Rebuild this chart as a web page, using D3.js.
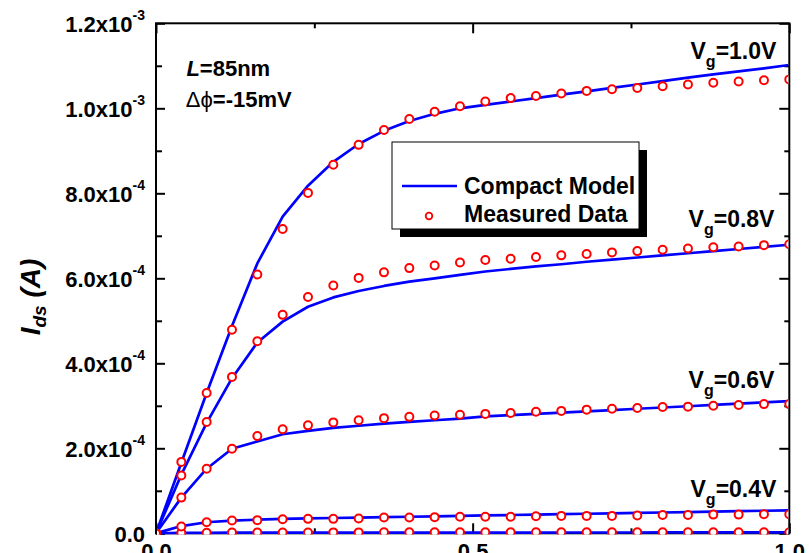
<!DOCTYPE html>
<html>
<head>
<meta charset="utf-8">
<script src="https://cdn.jsdelivr.net/npm/d3@7"></script>
<style>
  body { margin: 0; background: #fff; }
  svg { display: block; }
  text { font-family: "Liberation Sans", Arial, Helvetica, sans-serif; font-weight: bold; fill: #000; }
</style>
</head>
<body>
<svg id="chart" width="809" height="553"></svg>
<script>
// Drain voltage sweep (V)
const vds = [0.00, 0.04, 0.08, 0.12, 0.16, 0.20, 0.24, 0.28, 0.32, 0.36, 0.40, 0.44, 0.48,
             0.52, 0.56, 0.60, 0.64, 0.68, 0.72, 0.76, 0.80, 0.84, 0.88, 0.92, 0.96, 1.00];

// Measured drain current, in units of 1e-4 A
const measVg10 = [0, 1.68, 3.30, 4.79, 6.09, 7.16, 8.01, 8.67, 9.14, 9.49, 9.75, 9.92, 10.05,
                  10.16, 10.24, 10.29, 10.35, 10.41, 10.45, 10.48, 10.52, 10.56, 10.60, 10.63, 10.66, 10.68];
const measVg08 = [0, 1.36, 2.62, 3.68, 4.52, 5.14, 5.56, 5.83, 6.01, 6.14, 6.24, 6.30, 6.37,
                  6.43, 6.46, 6.50, 6.54, 6.57, 6.61, 6.64, 6.67, 6.70, 6.73, 6.75, 6.78, 6.80];
const measVg06 = [0, 0.84, 1.52, 1.99, 2.29, 2.45, 2.54, 2.61, 2.66, 2.71, 2.74, 2.77, 2.79,
                  2.81, 2.83, 2.86, 2.88, 2.91, 2.93, 2.95, 2.97, 2.98, 3.00, 3.02, 3.04, 3.04];
const measVg04 = [0, 0.16, 0.26, 0.30, 0.31, 0.33, 0.34, 0.34, 0.35, 0.37, 0.37, 0.38, 0.39,
                  0.39, 0.39, 0.40, 0.41, 0.41, 0.41, 0.42, 0.43, 0.43, 0.44, 0.44, 0.45, 0.45];
const measVg02 = [0, 0.010, 0.015, 0.018, 0.020, 0.020, 0.020, 0.021, 0.021, 0.022, 0.022, 0.022, 0.023,
                  0.023, 0.023, 0.024, 0.024, 0.024, 0.024, 0.025, 0.025, 0.025, 0.025, 0.026, 0.026, 0.026];

// Compact model drain current, in units of 1e-4 A
const modelVg10 = [0, 1.66, 3.30, 4.88, 6.35, 7.45, 8.18, 8.74, 9.16, 9.47, 9.70, 9.87, 10.00,
                   10.08, 10.16, 10.24, 10.32, 10.40, 10.48, 10.56, 10.64, 10.72, 10.80, 10.87, 10.94, 11.02];
const modelVg08 = [0, 1.38, 2.60, 3.65, 4.49, 4.98, 5.33, 5.55, 5.70, 5.82, 5.92, 6.00, 6.08,
                   6.16, 6.22, 6.28, 6.33, 6.39, 6.44, 6.49, 6.54, 6.59, 6.64, 6.69, 6.74, 6.79];
const modelVg06 = [0, 0.84, 1.52, 1.99, 2.16, 2.33, 2.41, 2.48, 2.53, 2.58, 2.62, 2.66, 2.70,
                   2.75, 2.78, 2.81, 2.84, 2.87, 2.90, 2.93, 2.96, 2.99, 3.02, 3.05, 3.08, 3.11];
const modelVg04 = [0, 0.17, 0.26, 0.30, 0.32, 0.34, 0.35, 0.36, 0.37, 0.38, 0.39, 0.40, 0.41,
                   0.42, 0.43, 0.44, 0.45, 0.46, 0.47, 0.48, 0.49, 0.50, 0.51, 0.52, 0.53, 0.54];
const modelVg02 = [0, 0.008, 0.012, 0.014, 0.015, 0.015, 0.016, 0.016, 0.016, 0.017, 0.017, 0.017, 0.018,
                   0.018, 0.018, 0.018, 0.019, 0.019, 0.019, 0.019, 0.020, 0.020, 0.020, 0.020, 0.021, 0.021];

const seriesNames = ["0.4V", "0.6V", "0.8V", "1.0V"];

// Axis ticks (y in units of 1e-4 A)
const xMajorTicks = [0, 0.5, 1.0];
const xMinorTicks = [0.25, 0.75];
const xTickLabels = ["0.0", "0.5", "1.0"];
const yMajorTicks = [0, 2, 4, 6, 8, 10, 12];
const yMinorTicks = [1, 3, 5, 7, 9, 11];
const yTickMantissa = ["0.0", "2.0", "4.0", "6.0", "8.0", "1.0", "1.2"];
const yTickExponent = ["", "-4", "-4", "-4", "-4", "-3", "-3"];

// Gate-voltage labels placed in data coordinates (Vds, Ids/1e-4)
const vgLabelX = [0.844, 0.841, 0.841, 0.844];
const vgLabelY = [0.86, 3.41, 7.21, 11.16];

const margin = { left: 156, top: 23.3, right: 809 - 789.3, bottom: 553 - 533.3 };
const W = 809 - margin.left - margin.right;
const H = 553 - margin.top - margin.bottom;

const svg = d3.select("#chart");
const g = svg.append("g").attr("transform", `translate(${margin.left},${margin.top})`);

const x = d3.scaleLinear().domain([0, 1.0]).range([0, W]);
const y = d3.scaleLinear().domain([0, 12]).range([H, 0]);

svg.append("defs").append("clipPath").attr("id", "plotClip")
  .append("rect").attr("x", 1).attr("y", 0).attr("width", W - 2).attr("height", H + 1.2);

// ---- axes ----
function styleAxis(sel) {
  sel.select(".domain").remove();
  sel.selectAll(".tick line").attr("stroke", "#000").attr("stroke-width", 2);
}

// left, major with labels
const yAxisG = g.append("g")
  .call(d3.axisLeft(y).tickValues(yMajorTicks).tickSizeInner(-9).tickSizeOuter(0).tickPadding(11))
  .call(styleAxis);
yAxisG.selectAll(".tick text")
  .attr("dy", null).attr("y", 8.5)
  .style("font-size", "22px")
  .each(function (d, i) {
    const t = d3.select(this);
    t.text(null);
    if (yTickExponent[i]) {
      t.append("tspan").text(yTickMantissa[i] + "x10");
      t.append("tspan").attr("dy", -12).style("font-size", "14px").text(yTickExponent[i]);
    } else {
      t.append("tspan").text(yTickMantissa[i]);
    }
  });
g.append("g").call(d3.axisLeft(y).tickValues(yMinorTicks).tickSize(-6).tickFormat("")).call(styleAxis);

// right
g.append("g").attr("transform", `translate(${W},0)`)
  .call(d3.axisRight(y).tickValues(yMajorTicks).tickSize(-10).tickFormat("")).call(styleAxis);
g.append("g").attr("transform", `translate(${W},0)`)
  .call(d3.axisRight(y).tickValues(yMinorTicks).tickSize(-5).tickFormat("")).call(styleAxis);

// bottom, major with labels
const xAxisG = g.append("g").attr("transform", `translate(0,${H})`)
  .call(d3.axisBottom(x).tickValues(xMajorTicks).tickSizeInner(-10).tickSizeOuter(0).tickPadding(10)
    .tickFormat((d, i) => xTickLabels[i]))
  .call(styleAxis);
xAxisG.selectAll(".tick text").style("font-size", "22px");
g.append("g").attr("transform", `translate(0,${H})`)
  .call(d3.axisBottom(x).tickValues(xMinorTicks).tickSize(-5).tickFormat("")).call(styleAxis);

// top
g.append("g").call(d3.axisTop(x).tickValues(xMajorTicks).tickSize(-10).tickFormat("")).call(styleAxis);
g.append("g").call(d3.axisTop(x).tickValues(xMinorTicks).tickSize(-5).tickFormat("")).call(styleAxis);

// frame
g.append("rect").attr("width", W).attr("height", H)
  .attr("fill", "none").attr("stroke", "#000").attr("stroke-width", 2);

// ---- data ----
const modelSets = [modelVg02, modelVg04, modelVg06, modelVg08, modelVg10];
const measSets = [measVg02, measVg04, measVg06, measVg08, measVg10];

const dataLayer = g.append("g").attr("clip-path", "url(#plotClip)");

const line = d3.line().x(d => x(d[0])).y(d => y(d[1]));

dataLayer.selectAll("path.model")
  .data(modelSets.map(s => vds.map((v, i) => [v, s[i]])))
  .join("path")
  .attr("class", "model")
  .attr("d", line)
  .attr("fill", "none")
  .attr("stroke", "#0000ff")
  .attr("stroke-width", 2.7)
  .attr("stroke-linejoin", "round");

const pts = measSets.flatMap(s => vds.map((v, i) => [v, s[i]]));
dataLayer.selectAll("circle.meas")
  .data(pts)
  .join("circle")
  .attr("class", "meas")
  .attr("cx", d => x(d[0]))
  .attr("cy", d => y(d[1]))
  .attr("r", 4)
  .attr("fill", "#fff")
  .attr("stroke", "#ff0000")
  .attr("stroke-width", 2);

// ---- gate voltage labels ----
seriesNames.forEach((name, i) => {
  const t = g.append("text")
    .attr("x", x(vgLabelX[i]))
    .attr("y", y(vgLabelY[i]))
    .style("font-size", "23px");
  t.append("tspan").text("V");
  t.append("tspan").attr("dy", 8).style("font-size", "16px").text("g");
  t.append("tspan").attr("dy", -8).text("=" + name);
});

// ---- device annotation ----
const ann1 = g.append("text").attr("x", x(0.048)).attr("y", y(10.76)).style("font-size", "22px");
ann1.append("tspan").style("font-style", "italic").text("L");
ann1.append("tspan").text("=85nm");
const ann2 = g.append("text").attr("x", x(0.047)).attr("y", y(10.02)).style("font-size", "22px");
ann2.append("tspan").style("font-weight", "normal").text("Δϕ");
ann2.append("tspan").text("=-15mV");

// ---- legend ----
const leg = g.append("g").attr("transform", "translate(236,118.7)");
const legW = 247, legH = 87;
leg.append("rect").attr("x", 8).attr("y", 8).attr("width", legW).attr("height", legH).attr("fill", "#000");
leg.append("rect").attr("width", legW).attr("height", legH).attr("fill", "#fff")
  .attr("stroke", "#000").attr("stroke-width", 1);
leg.append("line").attr("x1", 10).attr("x2", 65).attr("y1", 44).attr("y2", 44)
  .attr("stroke", "#0000ff").attr("stroke-width", 2.7);
leg.append("text").attr("x", 72).attr("y", 52).style("font-size", "23px").text("Compact Model");
leg.append("circle").attr("cx", 37).attr("cy", 74).attr("r", 3.3)
  .attr("fill", "#fff").attr("stroke", "#ff0000").attr("stroke-width", 1.8);
leg.append("text").attr("x", 72).attr("y", 80).style("font-size", "23px").text("Measured Data");

// ---- y axis title ----
const yTitle = svg.append("text")
  .attr("transform", "translate(40,297) rotate(-90)")
  .attr("text-anchor", "middle")
  .style("font-size", "28px")
  .style("font-style", "italic");
yTitle.append("tspan").text("I");
yTitle.append("tspan").attr("dy", 6).style("font-size", "19px").text("ds");
yTitle.append("tspan").attr("dy", -6).text(" (A)");
</script>
</body>
</html>
